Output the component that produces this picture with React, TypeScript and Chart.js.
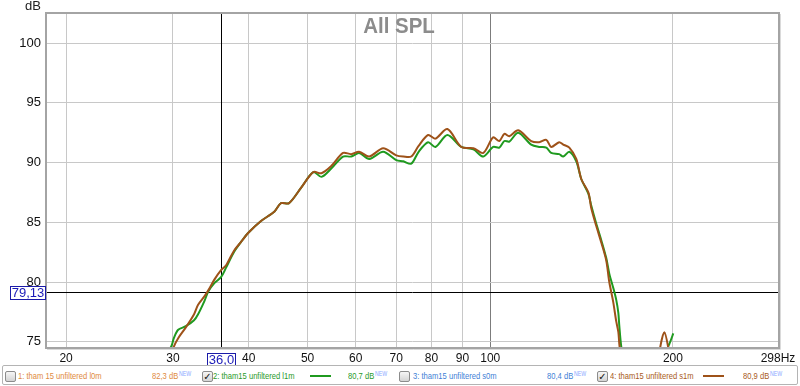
import React, { useEffect, useRef } from 'react';
import { Chart, registerables } from 'chart.js';

Chart.register(...registerables);

// ---- data ----
const freqHz = [
  28, 29.8, 30.1, 30.6, 31.5, 32.5, 33.0, 33.8, 34.3, 35.1, 36.0, 36.7, 37.8, 38.9, 39.9,
  41.9, 44.1, 45.2, 46.6, 48.8, 51.1, 52.7, 54.7, 57.2, 59.0, 60.8, 63.2, 66.6, 70.0, 71.9,
  74.1, 76.2, 79.0, 81.2, 85.0, 89.6, 93.8, 97.4, 101.1, 103.5, 105.5, 107.5, 111.2, 116.8,
  120.4, 123.7, 126.0, 129.9, 131.9, 135.0, 138.6, 141.3, 145.1, 146.7, 149.5, 152.4, 155.3,
  157.1, 159.5, 161.3, 162.6, 163.2, 164.4, 170, 185, 190.7, 193.6, 196.5, 198.0, 200.3,
];
// 2: tham15 unfiltered l1m (green)
const l1mDb = [
  72.5, 74.6, 75.3, 76.0, 76.3, 76.8, 77.3, 78.4, 79.2, 79.9, 80.4, 81.2, 82.5, 83.4, 84.1,
  85.1, 85.9, 86.6, 86.6, 87.9, 89.2, 88.8, 89.5, 90.5, 90.5, 90.8, 90.3, 90.9, 90.2, 90.1,
  89.9, 90.9, 91.7, 91.3, 92.3, 91.3, 91.1, 90.5, 91.3, 91.25, 91.8, 91.75, 92.5, 91.5,
  91.3, 91.25, 90.8, 90.7, 90.5, 90.9, 90.1, 88.6, 87.4, 86.4, 84.9, 83.5, 82.0,
  80.7, 79.5, 78.5, 77.4, 76.3, 74.6, 70, 70, 72.5, 73.5, 74.6, 75.0, 75.7,
];
// 4: tham15 unfiltered s1m (brown)
const s1mDb = [
  72.0, 73.8, 74.6, 75.3, 76.2, 77.3, 78.1, 78.8, 79.3, 80.2, 81.0, 81.4, 82.6, 83.4, 84.1,
  85.1, 85.9, 86.6, 86.6, 87.9, 89.2, 89.1, 89.7, 90.8, 90.7, 90.9, 90.5, 91.2, 90.6, 90.5,
  90.5, 91.4, 92.3, 92.0, 92.8, 91.3, 91.2, 90.8, 92.1, 91.8, 92.4, 92.2, 92.7, 91.8,
  91.7, 91.9, 91.3, 91.7, 91.5, 91.25, 90.3, 88.6, 87.5, 86.2, 84.7, 83.3, 81.8,
  80.0, 78.3, 76.7, 75.8, 74.8, 73.5, 70, 70, 74.6, 75.8, 74.5, 73.0, 72.0,
];

const xTickValues = [20, 30, 40, 50, 60, 70, 80, 90, 100, 200, 298];
const xTickLabels = ['20', '30', '40', '50', '60', '70', '80', '90', '100', '200', '298Hz'];
const yTickValues = [75, 80, 85, 90, 95, 100];

const xMin = 18.6;
const xMax = 298;
const yMin = 74.56;
const yMax = 102.43;

const cursorHz = 36.0;
const cursorDb = 79.13;
const cursorHzLabel = '36,0';
const cursorDbLabel = '79,13';
const chartTitle = 'All SPL';
const yUnit = 'dB';

const legendNames = [
  '1: tham 15 unfiltered l0m',
  '2: tham15 unfiltered l1m',
  '3: tham15 unfiltered s0m',
  '4: tham15 unfiltered s1m',
];
const legendValues = ['82,3 dB', '80,7 dB', '80,4 dB', '80,9 dB'];
const legendChecked = [false, true, false, true];
const legendColors = ['#e08a3e', '#2a9a2a', '#3f7fd6', '#a85a22'];

const GREEN = '#1f9a1f';
const BROWN = '#9e5219';

const FONT = '"Liberation Sans", Arial, Helvetica, sans-serif';

const overlayPlugin = {
  id: 'overlay',
  beforeDatasetsDraw(chart: any) {
    const { ctx, chartArea: a, scales } = chart;
    const x = scales.x;
    const y = scales.y;
    // title
    ctx.save();
    ctx.fillStyle = '#8c8c8c';
    ctx.font = 'bold 22px ' + FONT;
    ctx.textAlign = 'center';
    ctx.textBaseline = 'alphabetic';
    ctx.translate(399, 33);
    ctx.scale(0.93, 1);
    ctx.fillText(chartTitle, 0, 0);
    ctx.restore();
    // cursor lines
    ctx.save();
    ctx.strokeStyle = '#000';
    ctx.lineWidth = 1;
    const cx = Math.round(x.getPixelForValue(cursorHz)) + 0.5;
    const cy = Math.round(y.getPixelForValue(cursorDb)) + 0.5;
    ctx.beginPath();
    ctx.moveTo(cx, a.top);
    ctx.lineTo(cx, a.bottom);
    ctx.moveTo(a.left, cy);
    ctx.lineTo(a.right, cy);
    ctx.stroke();
    ctx.restore();
  },
  afterDraw(chart: any) {
    const { ctx, chartArea: a, scales } = chart;
    const x = scales.x;
    const y = scales.y;
    ctx.save();
    // frame with slight shadow
    ctx.strokeStyle = '#dadada';
    ctx.lineWidth = 1;
    ctx.beginPath();
    ctx.moveTo(a.right + 2.5, a.top);
    ctx.lineTo(a.right + 2.5, a.bottom + 2.5);
    ctx.lineTo(a.left, a.bottom + 2.5);
    ctx.stroke();
    ctx.strokeStyle = '#a4a4a4';
    ctx.lineWidth = 2;
    ctx.strokeRect(a.left - 1, a.top - 1, a.right - a.left + 2, a.bottom - a.top + 2);

    // unit label
    ctx.fillStyle = '#222';
    ctx.font = '13px ' + FONT;
    ctx.textAlign = 'right';
    ctx.textBaseline = 'alphabetic';
    ctx.fillText(yUnit, 41, 10);

    // cursor value boxes
    const cx = Math.round(x.getPixelForValue(cursorHz));
    const cy = Math.round(y.getPixelForValue(cursorDb));
    ctx.font = '13px ' + FONT;
    ctx.textAlign = 'center';
    ctx.textBaseline = 'middle';

    const bx = cx - 14;
    ctx.fillStyle = '#fff';
    ctx.fillRect(bx, a.bottom + 6, 29, 14);
    ctx.strokeStyle = '#1a1aa8';
    ctx.lineWidth = 1;
    ctx.strokeRect(bx + 0.5, a.bottom + 6.5, 28, 13);
    ctx.fillStyle = '#1a1ab8';
    ctx.fillText(cursorHzLabel, cx + 0.5, a.bottom + 13.5);

    ctx.fillStyle = '#fff';
    ctx.fillRect(10, cy - 6, 36, 14);
    ctx.strokeStyle = '#1a1aa8';
    ctx.strokeRect(10.5, cy - 5.5, 35, 13);
    ctx.fillStyle = '#1a1ab8';
    ctx.fillText(cursorDbLabel, 28, cy + 1.5);
    ctx.restore();
  },
};

function Checkbox({ checked, left }: { checked: boolean; left: number }) {
  return (
    <div
      style={{
        position: 'absolute',
        left,
        top: 371,
        width: 9,
        height: 9,
        border: '1px solid #8c8c8c',
        borderRadius: 2,
        background: 'linear-gradient(#f6f6f6, #d4d4d4)',
        fontSize: 10,
        lineHeight: '9px',
        textAlign: 'center',
        color: '#111',
        fontFamily: '"DejaVu Sans", sans-serif',
        fontWeight: 'bold',
        overflow: 'hidden',
      }}
    >
      {checked ? '✓' : ''}
    </div>
  );
}

function LegendText({ left, color, children }: { left: number; color: string; children: any }) {
  return (
    <span
      style={{
        position: 'absolute',
        left,
        top: 370,
        fontSize: 9.5,
        lineHeight: '12px',
        fontFamily: FONT,
        color,
        whiteSpace: 'nowrap',
        transform: 'scaleX(0.8)',
        transformOrigin: 'left center',
      }}
    >
      {children}
    </span>
  );
}

export default function App() {
  const canvasRef = useRef<HTMLCanvasElement | null>(null);

  useEffect(() => {
    document.body.style.margin = '0';
    const canvas = canvasRef.current;
    if (!canvas) return;
    const green = freqHz.map((f, i) => ({ x: f, y: l1mDb[i] }));
    const brown = freqHz.map((f, i) => ({ x: f, y: s1mDb[i] }));
    const chart = new Chart(canvas, {
      type: 'line',
      data: {
        datasets: [
          {
            label: legendNames[3],
            data: brown,
            borderColor: BROWN,
            borderWidth: 2,
            pointRadius: 0,
            tension: 0.3,
            fill: false,
          },
          {
            label: legendNames[1],
            data: green,
            borderColor: GREEN,
            borderWidth: 2,
            pointRadius: 0,
            tension: 0.3,
            fill: false,
          },
        ],
      },
      options: {
        animation: false,
        responsive: false,
        devicePixelRatio: 1,
        layout: { padding: { left: 0, top: 14, right: 22, bottom: 0 } },
        plugins: {
          legend: { display: false },
          tooltip: { enabled: false },
          title: { display: false },
        },
        events: [],
        scales: {
          x: {
            type: 'logarithmic',
            min: xMin,
            max: xMax,
            bounds: 'data',
            afterBuildTicks: (scale: any) => {
              scale.ticks = xTickValues.map((v) => ({ value: v }));
            },
            afterFit: (scale: any) => {
              scale.height = 386 - 347;
            },
            grid: {
              drawTicks: false,
              color: (c: any) => (c.tick && c.tick.value === 100 ? '#7c7c7c' : '#c8c8c8'),
              lineWidth: 1,
            },
            border: { display: false },
            ticks: {
              autoSkip: false,
              maxRotation: 0,
              padding: 4,
              color: '#111',
              font: { size: 12, family: FONT },
              callback: (v: any) => {
                const i = xTickValues.indexOf(Number(v));
                return i >= 0 ? xTickLabels[i] : '';
              },
            },
          },
          y: {
            type: 'linear',
            min: yMin,
            max: yMax,
            afterBuildTicks: (scale: any) => {
              scale.ticks = yTickValues.map((v) => ({ value: v }));
            },
            afterFit: (scale: any) => {
              scale.width = 47;
            },
            grid: { drawTicks: false, color: '#c8c8c8', lineWidth: 1 },
            border: { display: false },
            ticks: {
              padding: 6,
              color: '#111',
              font: { size: 13, family: FONT },
              callback: (v: any) => String(v),
            },
          },
        },
      },
      plugins: [overlayPlugin],
    } as any);
    return () => chart.destroy();
  }, []);

  const cbLeft = [5, 202, 399, 597];
  const nameLeft = [18, 213, 413, 610];
  const valueLeft = [152, 348, 547, 743];
  const lineLeft = [0, 310, 0, 703];

  return (
    <div style={{ position: 'fixed', left: 0, top: 0, width: 800, height: 386, background: '#fff' }}>
      <canvas ref={canvasRef} width={800} height={386} style={{ position: 'absolute', left: 0, top: 0 }} />
      <div
        style={{
          position: 'absolute',
          left: 2,
          top: 365,
          width: 794,
          height: 18,
          border: '1px solid #b4b4b4',
          borderRadius: 2,
          background: '#fff',
        }}
      />
      {legendNames.map((name, i) => (
        <React.Fragment key={name}>
          <Checkbox checked={legendChecked[i]} left={cbLeft[i]} />
          <LegendText left={nameLeft[i]} color={legendColors[i]}>
            {name}
          </LegendText>
          {legendChecked[i] ? (
            <div
              style={{
                position: 'absolute',
                left: lineLeft[i],
                top: 375,
                width: 21,
                height: 2,
                background: i === 1 ? GREEN : BROWN,
              }}
            />
          ) : null}
          <LegendText left={valueLeft[i]} color={legendColors[i]}>
            {legendValues[i]}
            <sup style={{ fontSize: 6.5, color: '#8aa8ff', verticalAlign: 'top', lineHeight: '8px', marginLeft: 1 }}>
              NEW
            </sup>
          </LegendText>
        </React.Fragment>
      ))}
    </div>
  );
}
